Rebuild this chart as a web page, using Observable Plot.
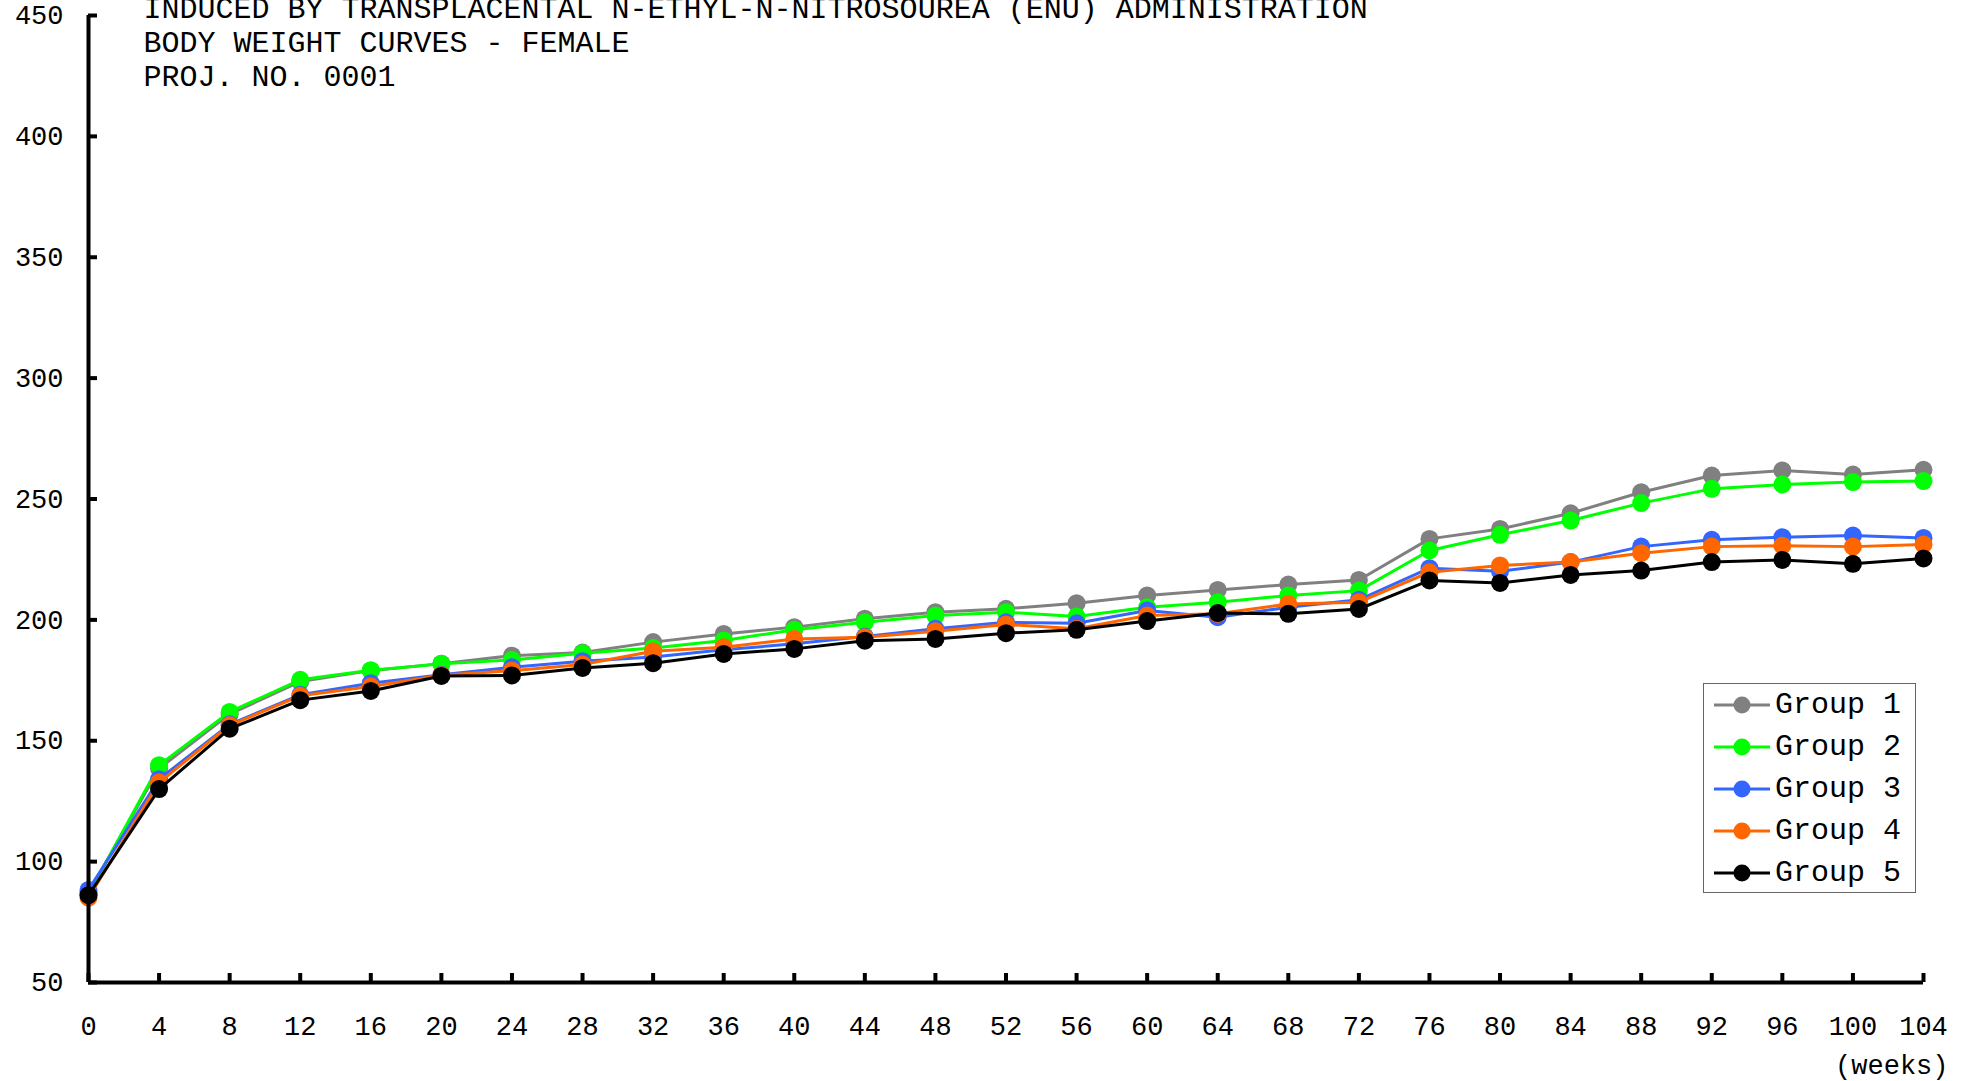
<!DOCTYPE html>
<html>
<head>
<meta charset="utf-8">
<script src="https://cdn.jsdelivr.net/npm/d3@7"></script>
<script src="https://cdn.jsdelivr.net/npm/@observablehq/plot@0.6"></script>
<style>
html, body { margin: 0; padding: 0; background: #fff; }
#wrap { position: relative; width: 1980px; height: 1081px; overflow: hidden; font-family: "Liberation Mono", monospace; }
#legend { position: absolute; left: 1703px; top: 683px; width: 211px; height: 208px; border: 1px solid #666; background: #fff; }
#legend .item { position: absolute; left: 0; width: 211px; height: 42px; }
#legend svg { position: absolute; left: 8px; top: 11px; }
#legend span { position: absolute; left: 71px; top: 0; line-height: 42px; font-size: 30px; color: #000; white-space: pre; }
</style>
</head>
<body>
<div id="wrap"><div id="chart"></div><div id="legend"></div></div>
<script>
// ---- data ----
const weeks = [0, 4, 8, 12, 16, 20, 24, 28, 32, 36, 40, 44, 48, 52, 56, 60, 64, 68, 72, 76, 80, 84, 88, 92, 96, 100, 104];
const group1 = [87.0, 138.5, 161.0, 174.5, 179.0, 181.9, 185.2, 186.5, 190.8, 194.2, 197.0, 200.5, 203.2, 204.6, 206.9, 210.1, 212.4, 214.6, 216.5, 233.5, 237.6, 244.1, 252.8, 259.7, 261.8, 260.1, 262.1];
const group2 = [86.5, 139.9, 161.9, 175.2, 179.2, 181.8, 183.4, 186.2, 188.4, 191.5, 195.9, 199.0, 201.8, 203.2, 201.4, 205.2, 207.3, 210.1, 212.1, 228.7, 235.2, 241.1, 248.3, 254.2, 256.0, 257.0, 257.4];
const group3 = [88.3, 134.1, 156.8, 169.0, 173.8, 177.3, 180.4, 182.9, 184.6, 187.6, 190.1, 193.1, 196.3, 199.0, 198.6, 203.9, 201.1, 205.2, 208.3, 221.4, 220.1, 223.9, 230.3, 233.1, 234.2, 234.9, 233.9];
const group4 = [85.1, 132.7, 156.4, 168.6, 172.4, 177.1, 179.0, 181.5, 187.0, 188.7, 192.1, 192.8, 195.3, 198.1, 196.3, 201.8, 202.5, 206.6, 207.3, 219.7, 222.5, 223.9, 227.6, 230.3, 230.7, 230.3, 231.2];
const group5 = [86.1, 130.0, 155.0, 166.8, 170.6, 176.8, 177.0, 180.1, 182.1, 185.9, 188.0, 191.4, 192.1, 194.5, 195.9, 199.5, 202.8, 202.5, 204.5, 216.3, 215.3, 218.6, 220.4, 223.9, 224.8, 223.2, 225.4];
const groupNames = ["Group 1", "Group 2", "Group 3", "Group 4", "Group 5"];
const groupColors = ["#808080", "#00ff00", "#3366ff", "#ff6600", "#000000"];
const xTicks = [0, 4, 8, 12, 16, 20, 24, 28, 32, 36, 40, 44, 48, 52, 56, 60, 64, 68, 72, 76, 80, 84, 88, 92, 96, 100, 104];
const yTicks = [50, 100, 150, 200, 250, 300, 350, 400, 450];
const titleLines = [
  "INDUCED BY TRANSPLACENTAL N-ETHYL-N-NITROSOUREA (ENU) ADMINISTRATION",
  "BODY WEIGHT CURVES - FEMALE",
  "PROJ. NO. 0001"
];
const xLabel = "(weeks)";

// ---- build table ----
const series = [group1, group2, group3, group4, group5];
const rows = series.flatMap((vals, gi) => vals.map((v, i) => ({week: weeks[i], value: v, group: groupNames[gi]})));

const seriesMarks = groupNames.flatMap((g) => {
  const sub = rows.filter((d) => d.group === g);
  return [
    Plot.line(sub, {x: "week", y: "value", stroke: "group", strokeWidth: 3}),
    Plot.dot(sub, {x: "week", y: "value", fill: "group", r: 9})
  ];
});

const chart = Plot.plot({
  width: 1980,
  height: 1081,
  marginTop: 15,
  marginLeft: 88,
  marginRight: 57,
  marginBottom: 99,
  style: {fontFamily: "'Liberation Mono', monospace", fontSize: "27px", color: "#000", background: "#fff", overflow: "visible"},
  x: {domain: [xTicks[0], xTicks[xTicks.length - 1]]},
  y: {domain: [yTicks[0], yTicks[yTicks.length - 1]]},
  color: {domain: groupNames, range: groupColors},
  marks: [
    Plot.axisX(xTicks, {tickSize: -9, tickPadding: 42, strokeWidth: 4, fontSize: 27, label: null}),
    Plot.axisY(yTicks, {tickSize: -9, tickPadding: 34, strokeWidth: 4, fontSize: 27, label: null}),
    ...seriesMarks,
    Plot.ruleX([xTicks[0]], {strokeWidth: 4, stroke: "#000"}),
    Plot.ruleY([yTicks[0]], {strokeWidth: 4, stroke: "#000"}),
    Plot.text([titleLines.join("\n")], {frameAnchor: "top-left", dx: 55, dy: -22, fontSize: 30, lineHeight: 1.133, textAnchor: "start", lineAnchor: "top", fill: "#000"}),
    Plot.text([xLabel], {frameAnchor: "bottom-right", dx: 25, dy: 83, fontSize: 27, textAnchor: "end", lineAnchor: "middle", fill: "#000"})
  ]
});
document.getElementById("chart").appendChild(chart);

// ---- legend ----
const legend = document.getElementById("legend");
groupNames.forEach((name, i) => {
  const item = document.createElement("div");
  item.className = "item";
  item.style.top = (42 * i) + "px";
  item.innerHTML = `<svg width="60" height="20" viewBox="0 0 60 20"><line x1="2" y1="10" x2="58" y2="10" stroke="${groupColors[i]}" stroke-width="3"/><circle cx="30" cy="10" r="8.5" fill="${groupColors[i]}"/></svg><span>${name}</span>`;
  legend.appendChild(item);
});
</script>
</body>
</html>
